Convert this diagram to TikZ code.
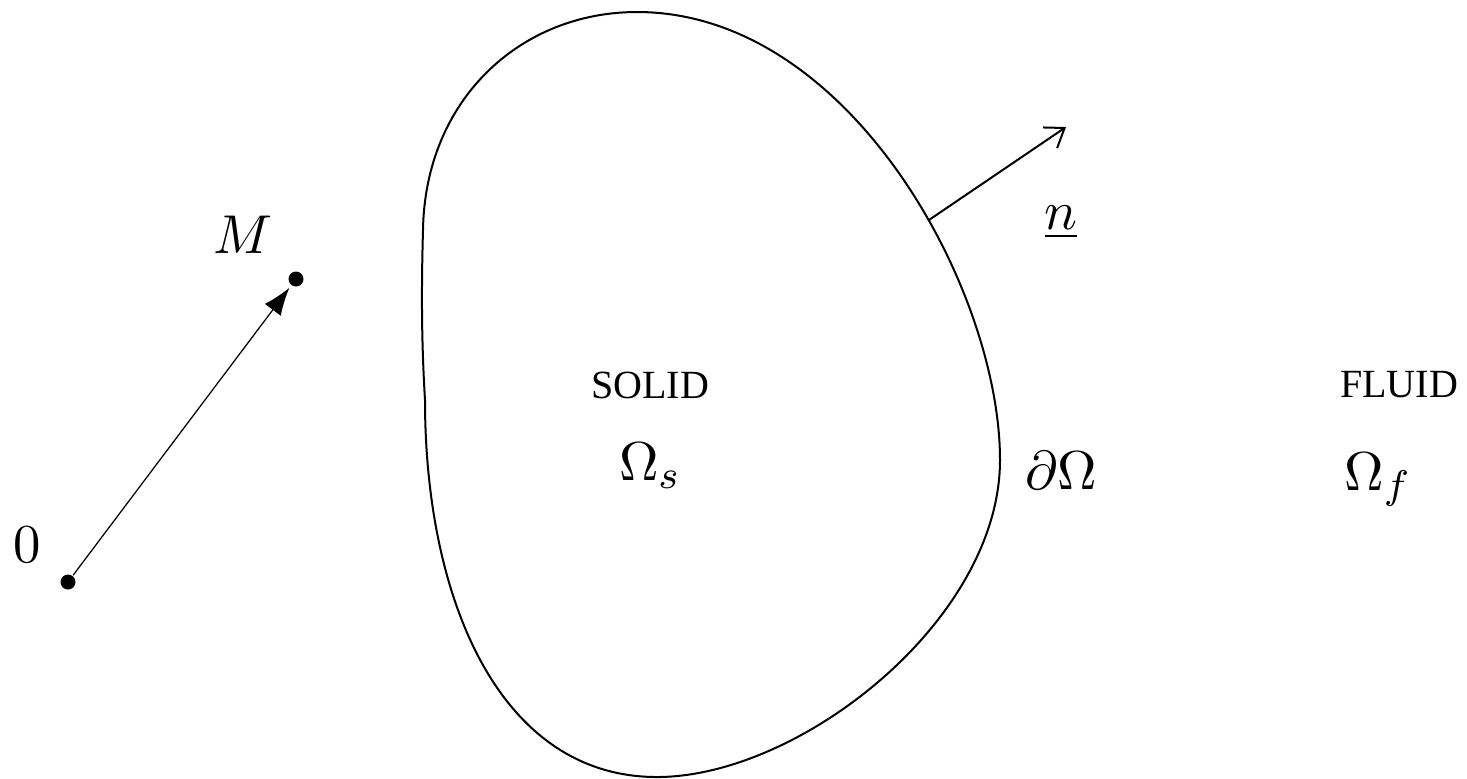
\documentclass[tikz,border=0pt]{standalone}
\usepackage{fontspec}
\newfontfamily\wordfont{Liberation Serif}
\usetikzlibrary{arrows.meta}

\tikzset{
  word/.style={font=\wordfont\fontsize{8}{10}\selectfont},
  dot/.style={circle, fill, inner sep=0pt, minimum size=3pt}
}

\begin{document}
\begin{tikzpicture}[x=0.2pt,y=-0.2pt,font=\fontsize{11}{13}\selectfont]
        \useasboundingbox (0,0) rectangle (1467,778);

        % hranice tělesa
        \draw[line width=0.4pt] (637,12)
          .. controls (850,12) and (1000,290) .. coordinate[pos=0.585] (N0) (1000,460)
          .. controls (1000,620) and (800,777) .. (657,777)
          .. controls (500,777) and (425,600) .. (425,400)
          .. controls (422,350) and (421,300) .. (423,230)
          .. controls (425,100) and (520,12) .. cycle;

        % počátek a bod M
        \node[dot] (O) at (68,582) {};
        \node[dot] (M) at (296,279) {};
        \node[anchor=base] (lO) at (27,562) {$0$};
        \node[anchor=base] (lM) at (243,253) {$M$};
        \draw[line width=0.25pt, -{Latex[length=5.5pt,width=4pt]}, shorten >=0.5pt] (O) -- (M);

        % normála
        \coordinate (N1) at (1066,127);
        \draw[line width=0.4pt, -{Straight Barb[length=3.5pt,width=5pt]}] (N0) -- (N1);
        \node[anchor=base] (ln) at (1061,229) {$\underline{n}$};

        % popisky oblastí
        \node[word] (solid) at (650,385) {SOLID};
        \node[anchor=base] (OmS) at (650,480) {$\Omega_s$};
        \node[anchor=base] (dOm) at (1061,489) {$\partial\Omega$};
        \node[word] (fluid) at (1399,385) {FLUID};
        \node[anchor=base] (OmF) at (1378,490) {$\Omega_f$};

    \end{tikzpicture}
\end{document}
